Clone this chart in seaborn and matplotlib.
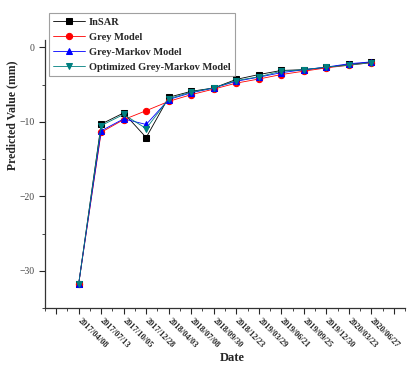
import numpy as np
import pandas as pd
import seaborn as sns
import matplotlib.pyplot as plt
from matplotlib.ticker import MultipleLocator

dates = ['2017/04/08', '2017/07/13', '2017/10/05', '2017/12/28', '2018/04/03',
         '2018/07/08', '2018/09/30', '2018/12/23', '2019/03/29', '2019/06/21',
         '2019/09/25', '2019/12/30', '2020/03/23', '2020/06/27']

insar = [-31.8, -10.3, -8.8, -12.1, -6.7, -5.9, -5.45, -4.3, -3.65, -3.1, -3.0, -2.7, -2.3, -2.0]
grey = [-31.8, -11.4, -9.7, -8.5, -7.25, -6.35, -5.6, -4.8, -4.25, -3.65, -3.2, -2.75, -2.4, -2.05]
grey_markov = [-31.8, -11.2, -9.6, -10.35, -7.0, -6.1, -5.45, -4.55, -4.0, -3.4, -3.0, -2.65, -2.2, -1.95]
opt_markov = [-31.8, -10.5, -9.0, -10.9, -6.9, -6.0, -5.45, -4.45, -3.95, -3.2, -3.0, -2.65, -2.4, -2.05]

series = {
    'InSAR': (insar, 'black', 's'),
    'Grey Model': (grey, 'red', 'o'),
    'Grey-Markov Model': (grey_markov, 'blue', '^'),
    'Optimized Grey-Markov Model': (opt_markov, '#008080', 'v'),
}

sns.set_style("ticks")
plt.rcParams['font.family'] = ['Liberation Serif', 'DejaVu Serif']

fig = plt.figure(figsize=(4.19, 3.66), dpi=100)
ax = fig.add_axes([0.107, 0.158, 0.86, 0.733])

x = np.arange(1, len(dates) + 1)
for name, (vals, col, mk) in series.items():
    df = pd.DataFrame({'x': x, 'y': vals})
    sns.lineplot(data=df, x='x', y='y', ax=ax, color=col, marker=mk,
                 markersize=4.5, markeredgecolor=col, linewidth=0.6,
                 alpha=1, label=name)

ax.set_xlim(-0.5, 15.5)
ax.set_ylim(-35, 1)
ax.set_xticks(range(0, 16))
ax.set_xticklabels([''] + dates + [''], rotation=-45, ha='left', va='center',
                   rotation_mode='anchor', fontsize=6, fontweight='bold')
ax.xaxis.set_minor_locator(MultipleLocator(0.5))
ax.set_yticks([0, -10, -20, -30])
ax.yaxis.set_minor_locator(MultipleLocator(5))
ax.tick_params(axis='y', labelsize=7, length=4, width=0.8)
ax.tick_params(axis='x', length=4, width=0.8, pad=4)
ax.tick_params(which='minor', length=2, width=0.6)
for t in ax.get_yticklabels():
    t.set_color('#444444')

sns.despine(ax=ax)
for s in ['left', 'bottom']:
    ax.spines[s].set_linewidth(0.9)
    ax.spines[s].set_color('#333333')

ax.set_xlabel('Date', fontsize=9, fontweight='bold')
ax.set_ylabel('Predicted Value (mm)', fontsize=8.5, fontweight='bold')
ax.yaxis.set_label_coords(-0.075, 0.72)
ax.xaxis.set_label_coords(0.52, -0.165)

leg = ax.legend(loc='upper left', bbox_to_anchor=(0.105, 0.978),
                bbox_transform=fig.transFigure, fancybox=False, frameon=True,
                prop={'weight': 'bold', 'size': 7.5}, handlelength=3,
                labelspacing=0.55, borderpad=0.4, handletextpad=0.4)
leg.get_frame().set_edgecolor('#888888')
leg.get_frame().set_linewidth(0.8)

fig.savefig('out.png', dpi=100)
